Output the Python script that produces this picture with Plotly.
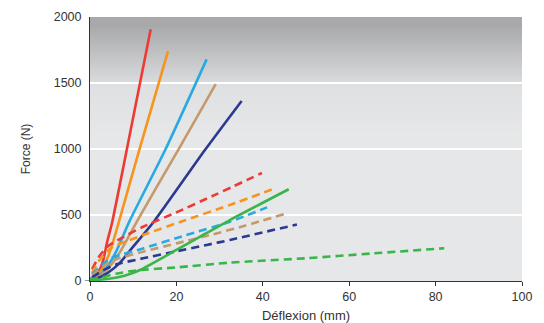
import plotly.graph_objects as go

# ---- data (deflection mm, force N) ----
red_solid_x = [0, 1, 2, 3, 4, 5.1, 8.5, 14.05]
red_solid_y = [20, 35, 70, 150, 300, 440, 992, 1907]
orange_solid_x = [0, 1, 2, 3, 4, 5, 6.8, 11.4, 18.06]
orange_solid_y = [20, 30, 55, 100, 170, 260, 462, 992, 1742]
cyan_solid_x = [0, 2, 4, 6, 9.1, 17.4, 27.0]
cyan_solid_y = [15, 40, 110, 220, 450, 992, 1679]
tan_solid_x = [0, 2, 4, 6, 8, 11, 20.4, 29.1]
tan_solid_y = [15, 35, 90, 170, 280, 460, 992, 1492]
navy_solid_x = [0, 2, 4, 6.8, 10, 14.9, 26.6, 35.1]
navy_solid_y = [10, 25, 60, 134, 260, 455, 992, 1364]
green_solid_x = [0, 4, 8, 11.6, 20, 25.5, 32.4, 46.0]
green_solid_y = [5, 15, 40, 83, 235, 336, 462, 695]

red_dash_x = [0.5, 2, 4, 7, 12.3, 20, 28.9, 39.8]
red_dash_y = [90, 180, 260, 320, 411, 520, 652, 818]
orange_dash_x = [0.5, 2, 4.9, 12.3, 22, 32.4, 43.0]
orange_dash_y = [60, 150, 250, 348, 460, 576, 704]
cyan_dash_x = [0.5, 3, 5, 12.3, 22, 32.4, 41.0]
cyan_dash_y = [50, 130, 175, 247, 345, 449, 558]
tan_dash_x = [0.5, 3, 6, 12.3, 20, 27.8, 36, 45.1]
tan_dash_y = [40, 110, 165, 222, 285, 348, 420, 509]
navy_dash_x = [0.5, 3, 6, 12.3, 20, 27.0, 32.4, 47.9]
navy_dash_y = [30, 80, 125, 172, 225, 273, 311, 428]
green_dash_x = [0, 3, 6, 10.6, 20, 32.4, 49.8, 65, 82.0]
green_dash_y = [10, 30, 55, 80, 103, 139, 172, 208, 248]

series = [
    (red_solid_x, red_solid_y, "#ec3a35", "solid"),
    (orange_solid_x, orange_solid_y, "#f7941d", "solid"),
    (cyan_solid_x, cyan_solid_y, "#27aae1", "solid"),
    (tan_solid_x, tan_solid_y, "#c49a6c", "solid"),
    (navy_solid_x, navy_solid_y, "#2b3990", "solid"),
    (red_dash_x, red_dash_y, "#ec3a35", "8px,5px"),
    (orange_dash_x, orange_dash_y, "#f7941d", "8px,5px"),
    (cyan_dash_x, cyan_dash_y, "#27aae1", "8px,5px"),
    (tan_dash_x, tan_dash_y, "#c49a6c", "8px,5px"),
    (navy_dash_x, navy_dash_y, "#2b3990", "8px,5px"),
    (green_dash_x, green_dash_y, "#39b54a", "8px,5px"),
    (green_solid_x, green_solid_y, "#39b54a", "solid"),
]

fig = go.Figure()
for xs, ys, col, dash in series:
    fig.add_trace(go.Scatter(x=xs, y=ys, mode="lines",
                             line=dict(color=col, width=2.6, dash=dash, shape="spline", smoothing=0.6),
                             showlegend=False, hoverinfo="skip"))

# background gradient (top band), rects overlap slightly to avoid seams
shapes = []
def lerp(c1, c2, t):
    return "rgb(%d,%d,%d)" % tuple(round(a + (b - a) * t) for a, b in zip(c1, c2))

top = (168, 169, 171)
mid = (217, 218, 219)
n = 40
y0, y1 = 1500, 2000
step = (y1 - y0) / n
for i in range(n):
    ya = y1 - step * i
    yb = ya - step * 1.6
    t = i / (n - 1)
    t = max(0.0, (t - 0.12) / 0.88)
    shapes.append(dict(type="rect", xref="paper", yref="y", x0=0, x1=1, y0=max(yb, y0), y1=ya,
                       fillcolor=lerp(top, mid, t), line=dict(width=0), layer="below"))
n2 = 20
step2 = 400 / n2
for i in range(n2):
    ya = 1500 - step2 * i
    yb = ya - step2 * 1.6
    t = i / (n2 - 1)
    shapes.append(dict(type="rect", xref="paper", yref="y", x0=0, x1=1, y0=yb, y1=ya,
                       fillcolor=lerp((223, 224, 225), (230, 231, 232), t), line=dict(width=0), layer="below"))
# small tick at y=0 left of axis
shapes.append(dict(type="line", xref="paper", yref="y", x0=-0.012, x1=0, y0=0, y1=0,
                   line=dict(color="#333333", width=1), layer="above"))

fig.update_layout(
    width=544, height=323,
    margin=dict(l=90, r=22, t=17, b=42),
    paper_bgcolor="white",
    plot_bgcolor="#e6e7e8",
    font=dict(family="Liberation Sans, Arial, sans-serif", size=12.5, color="#333333"),
    shapes=shapes,
    xaxis=dict(range=[0, 100], tickvals=[0, 20, 40, 60, 80, 100], showgrid=False,
               zeroline=False, showline=True, linecolor="#333333", linewidth=1,
               ticks="outside", ticklen=4, tickcolor="#333333", automargin=False,
               title=dict(text="Déflexion (mm)", standoff=7,
                          font=dict(size=13, color="#333333"))),
    yaxis=dict(range=[0, 2000], tickvals=[0, 500, 1000, 1500, 2000], showgrid=True,
               gridcolor="white", gridwidth=1.5, zeroline=False, showline=True,
               linecolor="#333333", linewidth=1, ticks="", ticklabelstandoff=5,
               automargin=False,
               title=dict(text="Force (N)", standoff=20,
                          font=dict(size=12, color="#333333"))),
)

fig.write_html("out.html")
